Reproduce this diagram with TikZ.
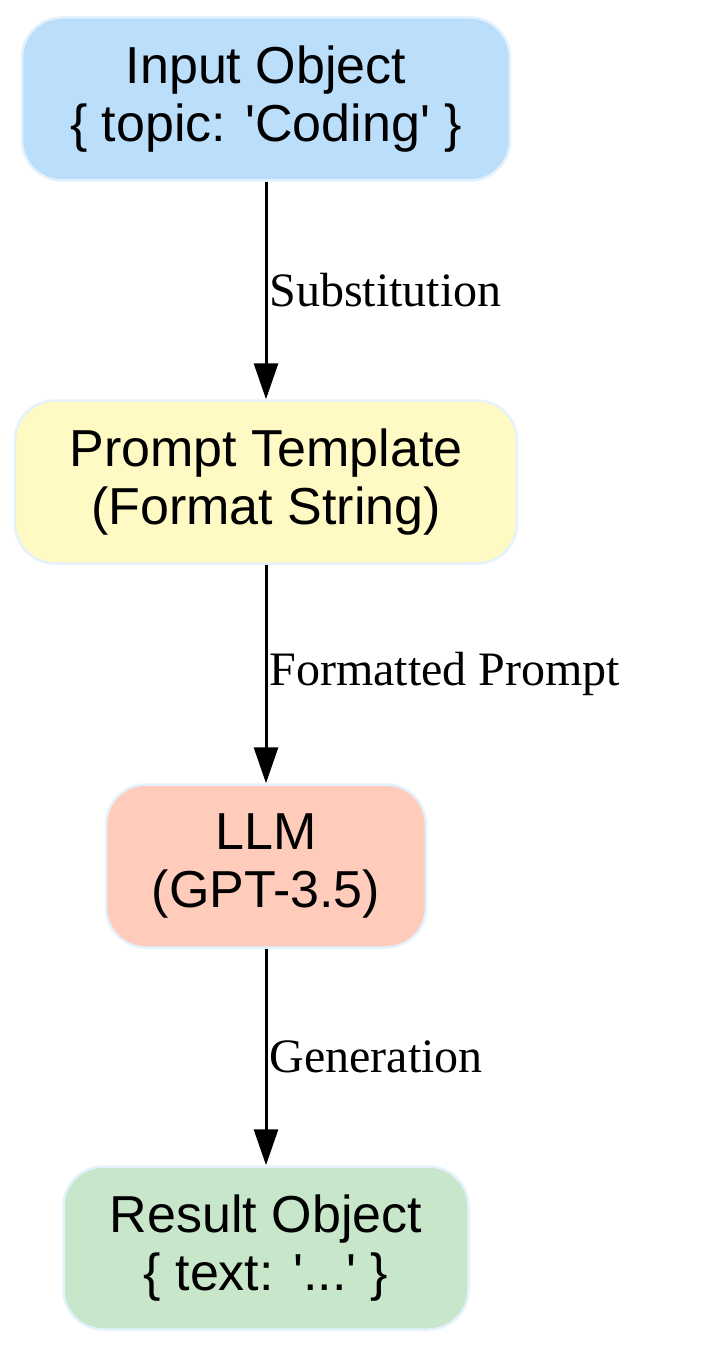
\documentclass[tikz,border=0pt]{standalone}
\usepackage{fontspec}
\setmainfont{Liberation Serif}
\setsansfont{Liberation Sans}
\usetikzlibrary{arrows.meta, positioning}
\definecolor{inblue}{HTML}{BBDEFB}
\definecolor{tplyellow}{HTML}{FFF9C4}
\definecolor{llmsalmon}{HTML}{FFCCBC}
\definecolor{resgreen}{HTML}{C8E6C9}
\definecolor{edgeblue}{HTML}{E3F2FD}

\begin{document}
\begin{tikzpicture}[x=1pt, y=-1pt,
    stage/.style={draw=edgeblue, line width=2.5pt, rounded corners=40pt, align=center,
        font=\sffamily\fontsize{52}{58}\selectfont, inner sep=0pt, minimum height=163pt},
    flow/.style={-{Triangle[length=36pt, width=24pt]}, line width=3pt},
    steplabel/.style={right, font=\fontsize{48}{54}\selectfont, inner sep=2pt}]
    \useasboundingbox (0,0) rectangle (701,1348);
    % --- pipeline stages ---
    \node[stage, fill=inblue, minimum width=488pt] (input) at (266,99) {Input Object\\\{ topic: \textquotesingle Coding\textquotesingle\ \}};
    \node[stage, fill=tplyellow, minimum width=502pt] (template) at (266,482) {Prompt Template\\(Format String)};
    \node[stage, fill=llmsalmon, minimum width=320pt] (llm) at (266,866) {LLM\\(GPT-3.5)};
    \node[stage, fill=resgreen, minimum width=405pt] (result) at (266,1248) {Result Object\\\{ text: \textquotesingle...\textquotesingle\ \}};

    % --- connectors ---
    \draw[flow] (input) -- node[steplabel, pos=0.5] {Substitution} (template);
    \draw[flow] (template) -- node[steplabel, pos=0.5] {Formatted Prompt} (llm);
    \draw[flow] (llm) -- node[steplabel, pos=0.5] {Generation} (result);
\end{tikzpicture}
\end{document}
